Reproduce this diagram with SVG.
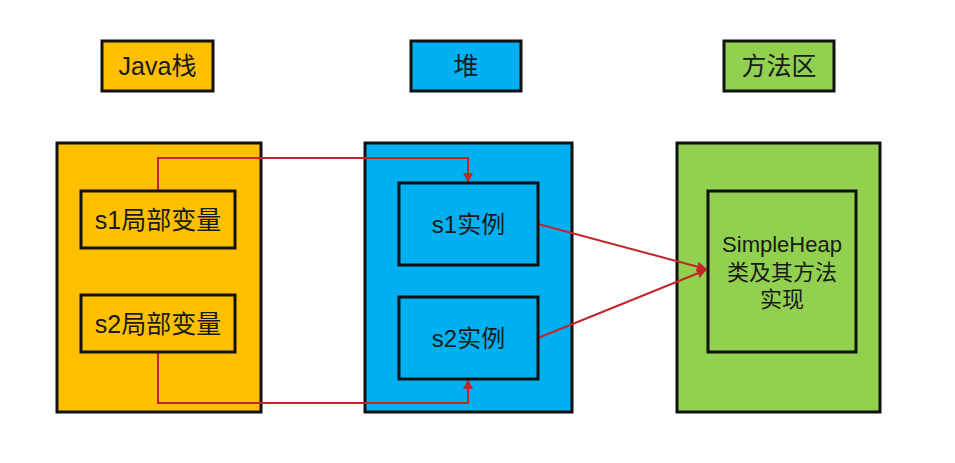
<svg xmlns="http://www.w3.org/2000/svg" width="955" height="463" viewBox="0 0 955 463">
<style>
.b{stroke:#111;stroke-width:3}
.o{fill:#FFC000}.u{fill:#00B0F0}.g{fill:#92D050}
text{font-family:"Liberation Sans","Noto Sans CJK SC",sans-serif;fill:#1a1a1a;text-anchor:middle;dominant-baseline:central}
.t{font-size:25px}.n{font-size:25px}.i{font-size:24px}.s{font-size:22px}
.c{fill:none;stroke:#C0262B;stroke-width:2}
</style>
<defs>
<marker id="a" viewBox="0 0 10 10" refX="9" refY="5" markerWidth="5" markerHeight="5" orient="auto"><path d="M0,0L10,5L0,10z" fill="#C0262B"/></marker>
</defs>
<rect width="955" height="463" fill="#fff"/>
<g id="label-stack"><rect class="b o" x="102" y="41" width="111" height="50"/><text class="t" x="157.5" y="66">Java栈</text></g>
<g id="label-heap"><rect class="b u" x="411" y="41" width="110" height="50"/><text class="t" x="466" y="66">堆</text></g>
<g id="label-method"><rect class="b g" x="724" y="41" width="110" height="50"/><text class="t" x="779" y="66">方法区</text></g>
<g id="stack"><rect class="b o" x="57" y="143" width="204" height="269"/></g>
<g id="heap"><rect class="b u" x="365" y="143" width="207" height="269"/></g>
<g id="method"><rect class="b g" x="677" y="143" width="203" height="269"/></g>
<g id="connectors">
<path class="c" d="M158,191V158H468V182" marker-end="url(#a)"/>
<path class="c" d="M158,352V403H468V380" marker-end="url(#a)"/>
<path class="c" d="M538,224L706,269" marker-end="url(#a)"/>
<path class="c" d="M538,338L706,270" marker-end="url(#a)"/>
</g>
<g id="s1-local"><rect class="b o" x="81" y="191" width="154" height="57"/><text class="n" x="158" y="220">s1局部变量</text></g>
<g id="s2-local"><rect class="b o" x="81" y="295" width="154" height="57"/><text class="n" x="158" y="324">s2局部变量</text></g>
<g id="s1-instance"><rect class="b u" x="399" y="183" width="139" height="82"/><text class="i" x="468.5" y="224">s1实例</text></g>
<g id="s2-instance"><rect class="b u" x="399" y="297" width="139" height="82"/><text class="i" x="468.5" y="338">s2实例</text></g>
<g id="class-impl"><rect class="b g" x="708" y="191" width="148" height="161"/>
<text class="s" x="782" y="244">SimpleHeap</text><text class="s" x="782" y="272">类及其方法</text><text class="s" x="782" y="299">实现</text></g>
</svg>
